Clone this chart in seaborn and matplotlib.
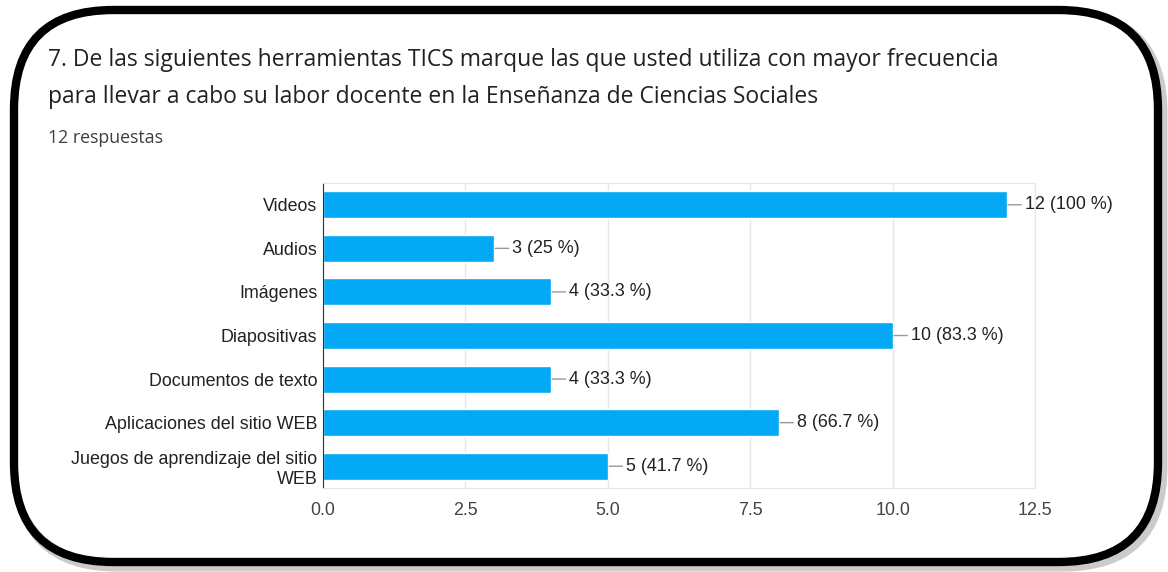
import matplotlib
matplotlib.use('Agg')
import matplotlib.pyplot as plt
import seaborn as sns
import pandas as pd
from matplotlib.patches import FancyBboxPatch

categories = ['Videos', 'Audios', 'Imágenes', 'Diapositivas', 'Documentos de texto',
              'Aplicaciones del sitio WEB', 'Juegos de aprendizaje del sitio\nWEB']
counts = [12, 3, 4, 10, 4, 8, 5]
total = 12
title = ('7. De las siguientes herramientas TICS marque las que usted utiliza con mayor frecuencia\n'
         'para llevar a cabo su labor docente en la Enseñanza de Ciencias Sociales')
subtitle = '12 respuestas'

df = pd.DataFrame({'cat': categories, 'n': counts})

sns.set_style('white')
plt.rcParams['font.family'] = ['Liberation Sans', 'DejaVu Sans']

fig = plt.figure(figsize=(11.68, 5.72), dpi=100)
W, H = 1168, 572

# card border with shadow
shadow = FancyBboxPatch((18 / W, 6 / H), 1144 / W, 552 / H, boxstyle='round,pad=0,rounding_size=0.085',
                        transform=fig.transFigure, facecolor='none', edgecolor='#999999',
                        linewidth=8, alpha=0.5, mutation_aspect=W / H, zorder=-2)
fig.patches.append(shadow)
card = FancyBboxPatch((14 / W, 10 / H), 1144 / W, 552 / H, boxstyle='round,pad=0,rounding_size=0.085',
                      transform=fig.transFigure, facecolor='white', edgecolor='black',
                      linewidth=6, mutation_aspect=W / H, zorder=-1)
fig.patches.append(card)

fig.text(48 / W, 1 - 48 / H, title, fontsize=16.5, color='#202124', va='top', ha='left',
         family=['Open Sans', 'DejaVu Sans'], linespacing=1.7)
fig.text(48 / W, 1 - 129 / H, subtitle, fontsize=12.8, color='#3c4043', va='top', ha='left',
         family=['Open Sans', 'DejaVu Sans'])

ax = fig.add_axes([323 / W, 1 - 488 / H, (1035 - 323) / W, (488 - 183) / H])
ax.set_zorder(2)
sns.barplot(data=df, x='n', y='cat', orient='h', color='#03a9f4', saturation=1,
            width=0.62, ax=ax)

ax.set_xlim(0, 12.5)
ax.set_ylim(6.5, -0.5)
ax.set_xticks([0, 2.5, 5, 7.5, 10, 12.5])
ax.set_xticklabels(['0.0', '2.5', '5.0', '7.5', '10.0', '12.5'])
ax.xaxis.grid(True, color='#e6e6e6', linewidth=1)
ax.set_axisbelow(True)
ax.set_xlabel('')
ax.set_ylabel('')
ax.tick_params(axis='x', colors='#444444', labelsize=12.9, length=0, pad=10)
ax.tick_params(axis='y', colors='#222222', labelsize=12.9, length=0, pad=4)
for s in ['top', 'right', 'bottom']:
    ax.spines[s].set_color('#e6e6e6')
ax.spines['left'].set_color('#333333')

for i, v in enumerate(counts):
    pct = round(v / total * 100, 1)
    pct_s = f'{pct:g}'
    ax.annotate(f'{v} ({pct_s} %)', xy=(v, i), xytext=(18, 0), textcoords='offset pixels',
                va='center', ha='left', fontsize=12.9, color='#222222',
                arrowprops=dict(arrowstyle='-', color='#999999', lw=1, shrinkA=0, shrinkB=1))

fig.savefig('out.png', dpi=100)
